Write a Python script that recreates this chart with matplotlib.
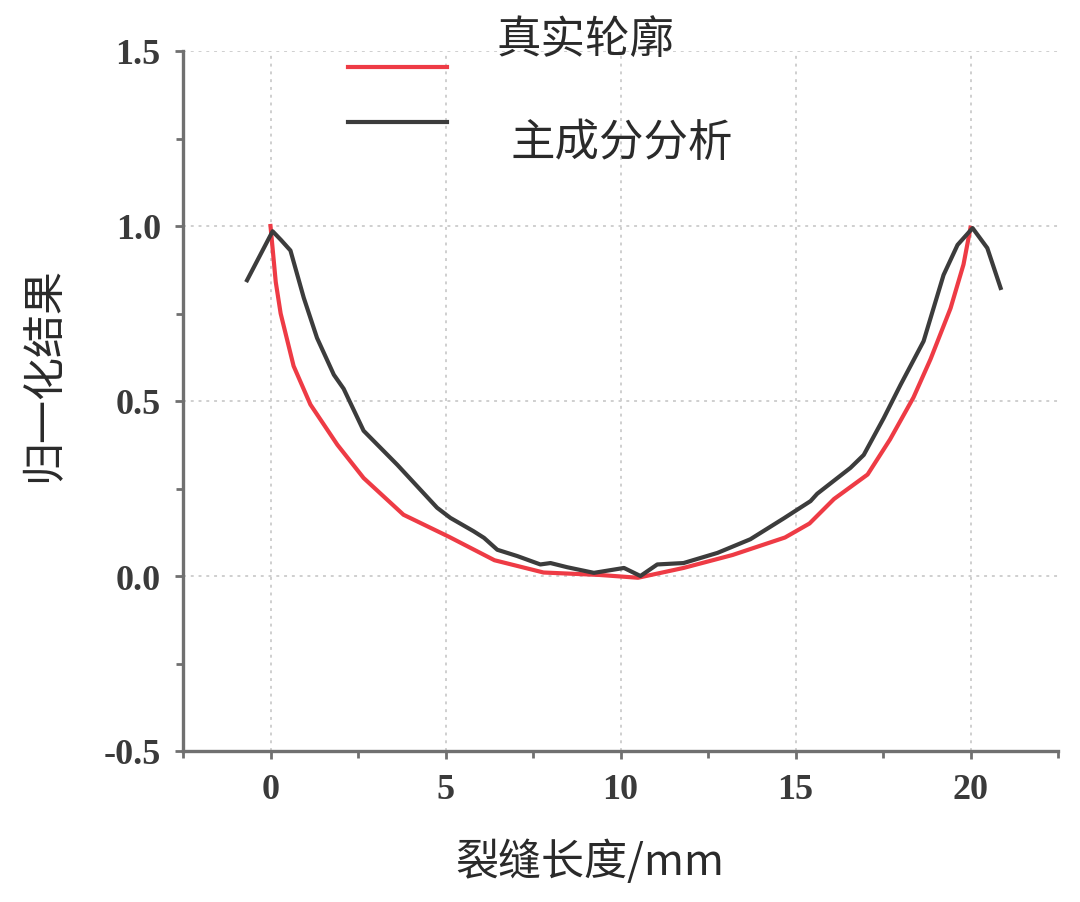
import matplotlib
matplotlib.use("Agg")
import matplotlib.pyplot as plt
from matplotlib.ticker import MultipleLocator

# ---- data ----
true_x = [0.0, 0.15, 0.29, 0.66, 1.14, 1.91, 2.66, 3.8, 5.1, 6.4, 7.8, 9.4, 10.5,
          11.8, 13.2, 14.7, 15.4, 16.1, 17.06, 17.7, 18.37, 18.86, 19.43, 19.8, 20.0]
true_y = [1.0, 0.84, 0.75, 0.60, 0.49, 0.375, 0.28, 0.175, 0.112, 0.045, 0.01, 0.003, -0.005,
          0.023, 0.06, 0.11, 0.15, 0.22, 0.29, 0.39, 0.51, 0.62, 0.765, 0.89, 0.995]

pca_x = [-0.67, 0.06, 0.3, 0.57, 0.95, 1.33, 1.81, 2.09, 2.66, 3.62, 4.76, 5.14, 5.8, 6.1,
         6.48, 7.05, 7.71, 8.0, 8.48, 9.24, 10.1, 10.57, 11.05, 11.8, 12.77, 13.71, 14.67,
         15.43, 15.62, 16.57, 16.95, 17.52, 18.0, 18.66, 19.23, 19.63, 20.06, 20.48, 20.86]
pca_y = [0.845, 0.985, 0.96, 0.93, 0.795, 0.68, 0.575, 0.535, 0.415, 0.318, 0.195, 0.166,
         0.128, 0.109, 0.075, 0.057, 0.033, 0.037, 0.025, 0.009, 0.023, 0.0, 0.033, 0.037,
         0.066, 0.105, 0.165, 0.214, 0.235, 0.309, 0.346, 0.451, 0.546, 0.671, 0.86, 0.946,
         0.994, 0.937, 0.823]

series_labels = ["真实轮廓", "主成分分析"]
x_label = "裂缝长度/mm"
y_label = "归一化结果"
x_ticks = [0, 5, 10, 15, 20]
y_ticks = [-0.5, 0.0, 0.5, 1.0, 1.5]

cjk = ["Noto Sans CJK SC", "DejaVu Sans"]
serif = ["Liberation Serif", "DejaVu Serif"]

fig = plt.figure(figsize=(10.8, 9.03), dpi=100)
ax = fig.add_axes([183/1080, 1-752/903, 875/1080, 700/903])

red_c = "#ee3b45"
blk_c = "#3c3c3c"
l1, = ax.plot(true_x, true_y, color=red_c, lw=3.0, zorder=3)
l2, = ax.plot(pca_x, pca_y, color=blk_c, lw=3.0, zorder=4)

ax.set_xlim(-2.5, 22.5)
ax.set_ylim(-0.5, 1.5)
ax.set_xticks(x_ticks)
ax.set_yticks(y_ticks)
ax.set_yticklabels([f"{v:.1f}" for v in y_ticks])
ax.xaxis.set_minor_locator(MultipleLocator(2.5))
ax.yaxis.set_minor_locator(MultipleLocator(0.25))

for s in ["top", "right"]:
    ax.spines[s].set_visible(False)
for s in ["left", "bottom"]:
    ax.spines[s].set_color("#707070")
    ax.spines[s].set_linewidth(2.4)

ax.tick_params(which="both", direction="out", color="#707070", width=2.0)
ax.tick_params(which="major", length=6, pad=10, labelsize=26, labelcolor="#3a3a3a")
ax.tick_params(which="minor", length=5)
for t in ax.get_xticklabels() + ax.get_yticklabels():
    t.set_family(serif)
    t.set_fontweight("bold")

ax.grid(True, which="major", linestyle=(0, (1.5, 2.5)), color="#cfcfcf", lw=1.4, zorder=0)

ax.set_xlabel(x_label, family=cjk, fontsize=31, color="#2a2a2a")
ax.xaxis.set_label_coords((590-183)/875, (752-840)/700)
ax.set_ylabel(y_label, family=cjk, fontsize=31, color="#2a2a2a")
ax.yaxis.set_label_coords((66-183)/875, (752-375)/700)

leg = ax.legend([l1, l2], ["", ""], loc="center",
                bbox_to_anchor=((397.5-183)/875, (752-98.5)/700),
                frameon=False, fontsize=10, handlelength=7.1, handleheight=2.0,
                handletextpad=0, borderpad=0, labelspacing=2.39, borderaxespad=0)

ax.text((585-183)/875, (752-40)/700, series_labels[0], transform=ax.transAxes,
        ha="center", va="center", family=cjk, fontsize=32, color="#2a2a2a")
ax.text((622-183)/875, (752-143)/700, series_labels[1], transform=ax.transAxes,
        ha="center", va="center", family=cjk, fontsize=32, color="#2a2a2a")

fig.savefig("out.png", dpi=100)
